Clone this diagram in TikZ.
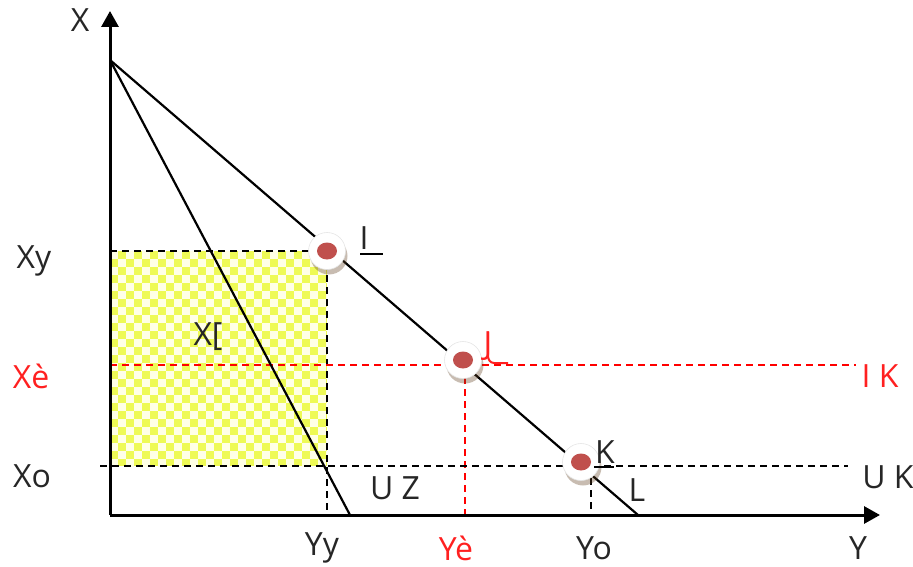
\documentclass[tikz,border=0pt]{standalone}
\usepackage{fontspec}
\setmainfont{Open Sans}
\usetikzlibrary{arrows.meta}
\definecolor{dotred}{HTML}{C0504D}
\definecolor{lblred}{HTML}{FF2020}
\definecolor{chkyel}{HTML}{EEFA55}
\definecolor{chkwht}{HTML}{FFFFE6}
\begin{document}
\begin{tikzpicture}[x=1pt,y=-1pt,
  lbl/.style={font=\fontsize{32}{34}\selectfont, text=black!85, inner sep=0pt},
  rlbl/.style={lbl, text=lblred},
  axis/.style={line width=3pt, -{Triangle[width=17pt,length=16pt]}},
  bline/.style={line width=2.2pt},
  bdash/.style={line width=2.2pt, dash pattern=on 7pt off 5pt},
  rdash/.style={line width=2.2pt, red, dash pattern=on 7pt off 5pt}]
\useasboundingbox (0,0) rectangle (913,567);
% coordinates
\coordinate (O) at (110,515);
\coordinate (ytop) at (110,11);
\coordinate (xend) at (880,515);
\coordinate (A) at (110,60);
\coordinate (S) at (350,515);
\coordinate (B) at (638,515);
\coordinate (I) at (327,251);
\coordinate (J) at (463,360);
\coordinate (K) at (581,462);
% yellow area
\fill[chkyel] (110,251) rectangle (327,466);
\begin{scope}
\clip (110,251) rectangle (327,466);
\foreach \i in {0,...,27}{
  \foreach \j in {0,...,26}{
    \pgfmathtruncatemacro{\cpar}{mod(\i+\j,2)}
    \ifnum\cpar=0
      \fill[chkwht] (110+8*\i,251+8*\j) rectangle ++(8,8);
    \fi
  }
}
\end{scope}
% dashed lines
\coordinate (xy0) at (110,251);
\coordinate (xe0) at (110,365);
\coordinate (xe1) at (856,365);
\coordinate (xo0) at (100,466);
\coordinate (xo1) at (848,466);
\coordinate (yy0) at (327,515);
\coordinate (ye0) at (465,515);
\coordinate (ye1) at (465,365);
\coordinate (yo0) at (591,515);
\coordinate (yo1) at (591,466);
\draw[bdash] (xy0) -- (I);
\draw[bdash] (I) -- (yy0);
\draw[rdash] (xe0) -- (xe1);
\draw[rdash] (ye1) -- (ye0);
\draw[bdash] (xo0) -- (xo1);
\draw[bdash] (yo1) -- (yo0);
% lines
\draw[bline] (A) -- (S);
\draw[bline] (A) -- (B);
% axes
\draw[axis] (O) -- (ytop);
\draw[axis] (O) -- (xend);
% dots
\foreach \p in {I,J,K}{
  \fill[black!50!brown, opacity=0.35] ([shift={(2,5)}]\p) circle (18.5pt);
  \fill[white, draw=black!10, line width=0.6pt] (\p) circle (18.5pt);
  \fill[dotred] (\p) ellipse (10pt and 8.5pt);
}
% labels
\node[lbl] (lX) at (80,20) {X};
\node[lbl] (lXy) at (34,261) {Xy};
\node[rlbl] (lXe) at (31,376) {Xè};
\node[lbl] (lXo) at (32,476) {Xo};
\node[lbl] (lXb) at (208,337) {X[};
\node[lbl] (lI) at (364,238) {I};
\draw[line width=2pt] (360,254) -- (383,254);
\node[rlbl] (lJ) at (488,346) {J};
\draw[line width=2pt, lblred] (488,332) -- (488,356) to[out=-90,in=180] (494,363) -- (508,363);
\node[lbl] (lK) at (605,452) {K};
\draw[line width=2pt] (594,467) -- (614,467);
\node[lbl] (lUZ) at (395,488) {U Z};
\node[lbl] (lL) at (637,490) {L};
\node[rlbl] (lIK) at (880,376) {I K};
\node[lbl] (lUK) at (888,477) {U K};
\node[lbl] (lYy) at (322,548) {Yy};
\node[rlbl] (lYe) at (456,548) {Yè};
\node[lbl] (lYo) at (594,548) {Yo};
\node[lbl] (lY) at (858,548) {Y};
\end{tikzpicture}
\end{document}
